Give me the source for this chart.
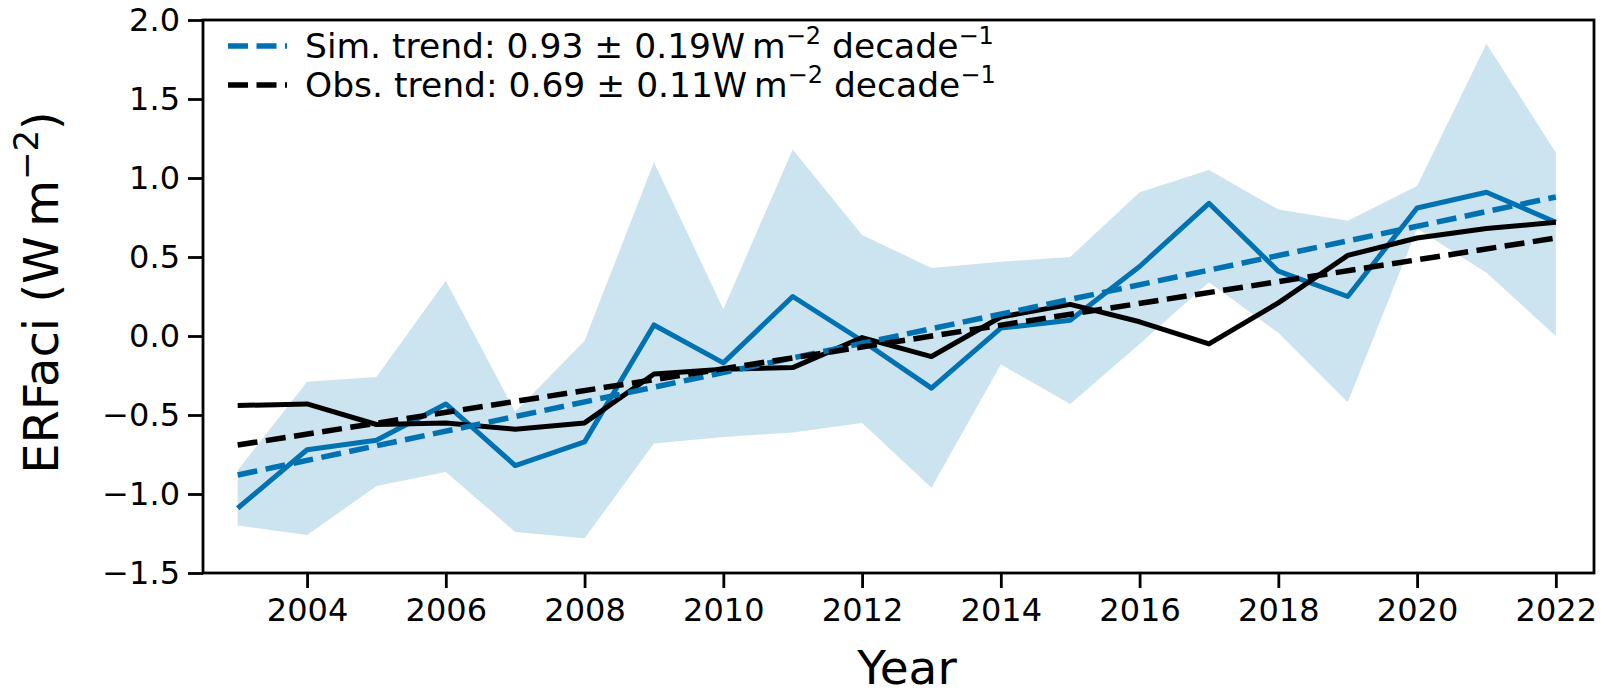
<!DOCTYPE html>
<html>
<head>
<meta charset="utf-8">
<script src="https://cdn.jsdelivr.net/npm/d3@7"></script>
<style>
  body { margin: 0; background: #fff; }
  text { font-family: 'DejaVu Sans', sans-serif; fill: #000; }
</style>
</head>
<body>
<div id="chart-1"></div>
<script>
const years = [2003, 2004, 2005, 2006, 2007, 2008, 2009, 2010, 2011, 2012,
  2013, 2014, 2015, 2016, 2017, 2018, 2019, 2020, 2021, 2022]
const simValues = [-1.09, -0.72, -0.66, -0.43, -0.82, -0.67, 0.07, -0.17, 0.25, -0.03,
  -0.33, 0.05, 0.10, 0.44, 0.84, 0.41, 0.25, 0.81, 0.91, 0.72]
const obsValues = [-0.44, -0.43, -0.56, -0.55, -0.59, -0.55, -0.24, -0.21, -0.20, -0.01,
  -0.13, 0.12, 0.20, 0.09, -0.05, 0.21, 0.51, 0.62, 0.68, 0.72]
const simUpper = [-0.85, -0.29, -0.26, 0.35, -0.48, -0.03, 1.10, 0.17, 1.18, 0.64,
  0.43, 0.47, 0.50, 0.91, 1.05, 0.80, 0.73, 0.95, 1.85, 1.16]
const simLower = [-1.20, -1.26, -0.95, -0.86, -1.24, -1.28, -0.68, -0.64, -0.61, -0.55,
  -0.96, -0.18, -0.43, -0.05, 0.34, 0.02, -0.42, 0.68, 0.40, 0.00]
// trend lines, value at first and last year
const trendYears = [2003, 2022]
const simTrend = [-0.88, 0.88]
const obsTrend = [-0.69, 0.62]
const xTicks = [2004, 2006, 2008, 2010, 2012, 2014, 2016, 2018, 2020, 2022]
const yTicks = [-1.5, -1.0, -0.5, 0.0, 0.5, 1.0, 1.5, 2.0]
const legendLabels = [
  { name: 'Sim. trend', value: '0.93 ± 0.19' },
  { name: 'Obs. trend', value: '0.69 ± 0.11' }
]

const blue = '#0072b2'
const margin = { top: 20, left: 203, right: 14, bottom: 123 }
const width = 1608 - margin.left - margin.right
const height = 696 - margin.top - margin.bottom

const root = d3
  .select('#chart-1')
  .append('svg')
  .attr('width', 1608)
  .attr('height', 696)

const svg = root
  .append('g')
  .attr('transform', 'translate(' + margin.left + ',' + margin.top + ')')

const xPositionScale = d3
  .scaleLinear()
  .domain([2002.5, 2022.55])
  .range([0, width])

const yPositionScale = d3
  .scaleLinear()
  .domain([-1.5, 2.0])
  .range([height, 0])

const simData = years.map((y, i) => ({
  year: y,
  sim: simValues[i],
  obs: obsValues[i],
  hi: simUpper[i],
  lo: simLower[i]
}))

const area = d3
  .area()
  .x(d => xPositionScale(d.year))
  .y0(d => yPositionScale(d.lo))
  .y1(d => yPositionScale(d.hi))

svg
  .append('path')
  .datum(simData)
  .attr('d', area)
  .attr('fill', blue)
  .attr('opacity', 0.2)

const simLine = d3
  .line()
  .x(d => xPositionScale(d.year))
  .y(d => yPositionScale(d.sim))
const obsLine = d3
  .line()
  .x(d => xPositionScale(d.year))
  .y(d => yPositionScale(d.obs))

svg
  .append('path')
  .datum(simData)
  .attr('d', simLine)
  .attr('fill', 'none')
  .attr('stroke', blue)
  .attr('stroke-width', 5)
  .attr('stroke-linejoin', 'round')

svg
  .append('path')
  .datum(simData)
  .attr('d', obsLine)
  .attr('fill', 'none')
  .attr('stroke', 'black')
  .attr('stroke-width', 5)
  .attr('stroke-linejoin', 'round')

const trendLine = d3
  .line()
  .x(d => xPositionScale(d[0]))
  .y(d => yPositionScale(d[1]))

svg
  .append('path')
  .datum(d3.zip(trendYears, simTrend))
  .attr('d', trendLine)
  .attr('fill', 'none')
  .attr('stroke', blue)
  .attr('stroke-width', 5.5)
  .attr('stroke-dasharray', '20,8.5')

svg
  .append('path')
  .datum(d3.zip(trendYears, obsTrend))
  .attr('d', trendLine)
  .attr('fill', 'none')
  .attr('stroke', 'black')
  .attr('stroke-width', 5.5)
  .attr('stroke-dasharray', '20,8.5')

// axes
const xAxis = d3
  .axisBottom(xPositionScale)
  .tickValues(xTicks)
  .tickFormat(d3.format('d'))
  .tickSize(15)
  .tickPadding(10)
svg
  .append('g')
  .attr('class', 'axis x-axis')
  .attr('transform', 'translate(0,' + height + ')')
  .call(xAxis)

const yAxis = d3
  .axisLeft(yPositionScale)
  .tickValues(yTicks)
  .tickFormat(d3.format('.1f'))
  .tickSize(15)
  .tickPadding(8)
svg
  .append('g')
  .attr('class', 'axis y-axis')
  .call(yAxis)

svg.selectAll('.axis path').remove()
svg.selectAll('.axis line').attr('stroke', 'black').attr('stroke-width', 2.8)
svg
  .selectAll('.axis text')
  .attr('font-family', 'DejaVu Sans')
  .attr('font-size', 32)
  .attr('fill', 'black')

svg
  .append('rect')
  .attr('width', width)
  .attr('height', height)
  .attr('fill', 'none')
  .attr('stroke', 'black')
  .attr('stroke-width', 2.8)

// axis labels
root
  .append('text')
  .attr('x', 907)
  .attr('y', 684)
  .attr('text-anchor', 'middle')
  .attr('font-size', 47)
  .text('Year')

const yLabel = root
  .append('text')
  .attr('transform', 'translate(58,' + (margin.top + height / 2 - 4) + ') rotate(-90)')
  .attr('text-anchor', 'middle')
  .attr('font-size', 48)
yLabel.append('tspan').text('ERFaci (W\u2009m')
yLabel.append('tspan').attr('font-size', 34).attr('dy', -20).text('−2')
yLabel.append('tspan').attr('dy', 20).text(')')

// legend
const legendColors = [blue, 'black']
const legend = root
  .append('g')
  .selectAll('g')
  .data(legendLabels)
  .enter()
  .append('g')
  .attr('transform', (d, i) => 'translate(228,' + (46 + i * 39) + ')')

legend
  .append('line')
  .attr('x1', 0)
  .attr('x2', 59)
  .attr('stroke', (d, i) => legendColors[i])
  .attr('stroke-width', 5.5)
  .attr('stroke-dasharray', '20,8.5')

const legendText = legend
  .append('text')
  .attr('x', 77)
  .attr('y', 12)
  .attr('font-size', 34.5)
legendText.append('tspan').text(d => d.name + ': ' + d.value + 'W\u2009m')
legendText.append('tspan').attr('font-size', 24).attr('dy', -14).text('−2')
legendText.append('tspan').attr('dy', 14).text(' decade')
legendText.append('tspan').attr('font-size', 24).attr('dy', -14).text('−1')
</script>
</body>
</html>
